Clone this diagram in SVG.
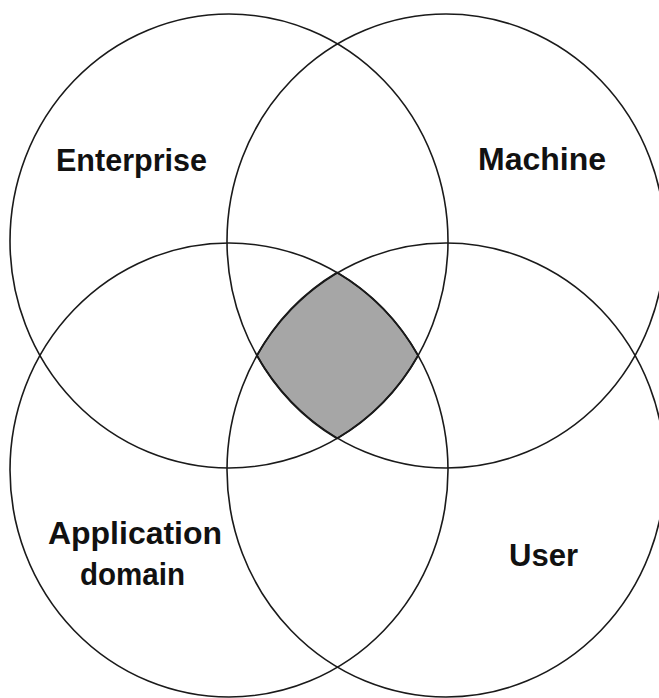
<svg xmlns="http://www.w3.org/2000/svg" width="659" height="698" viewBox="0 0 659 698">
<style>
.set{fill:none;stroke:#1a1a1a;stroke-width:1.6}
.core{fill:#a6a6a6;stroke:#1a1a1a;stroke-width:1.8}
.lbl{font-family:"Liberation Sans",Arial,sans-serif;font-weight:bold;font-size:31px;fill:#111}
</style>
<rect width="659" height="698" fill="#fff"/>
<g id="intersection">
<path class="core" d="M337 272.5 A219 227 0 0 1 418.1 355.5 A219 227 0 0 1 337 438.5 A219 227 0 0 1 256.9 355.5 A219 227 0 0 1 337 272.5 Z"/>
</g>
<g id="enterprise">
<ellipse class="set" cx="229" cy="241" rx="219" ry="227"/>
<text class="lbl" x="56" y="171" textLength="151" lengthAdjust="spacingAndGlyphs">Enterprise</text>
</g>
<g id="machine">
<ellipse class="set" cx="446" cy="241" rx="219" ry="227"/>
<text class="lbl" x="478" y="170" textLength="128" lengthAdjust="spacingAndGlyphs">Machine</text>
</g>
<g id="application-domain">
<ellipse class="set" cx="229" cy="470" rx="219" ry="227"/>
<text class="lbl" x="48" y="544" textLength="174" lengthAdjust="spacingAndGlyphs">Application</text>
<text class="lbl" x="80" y="585" textLength="105" lengthAdjust="spacingAndGlyphs">domain</text>
</g>
<g id="user">
<ellipse class="set" cx="446" cy="470" rx="219" ry="227"/>
<text class="lbl" x="509" y="566" textLength="69" lengthAdjust="spacingAndGlyphs">User</text>
</g>
<g id="connectors"/>
</svg>
